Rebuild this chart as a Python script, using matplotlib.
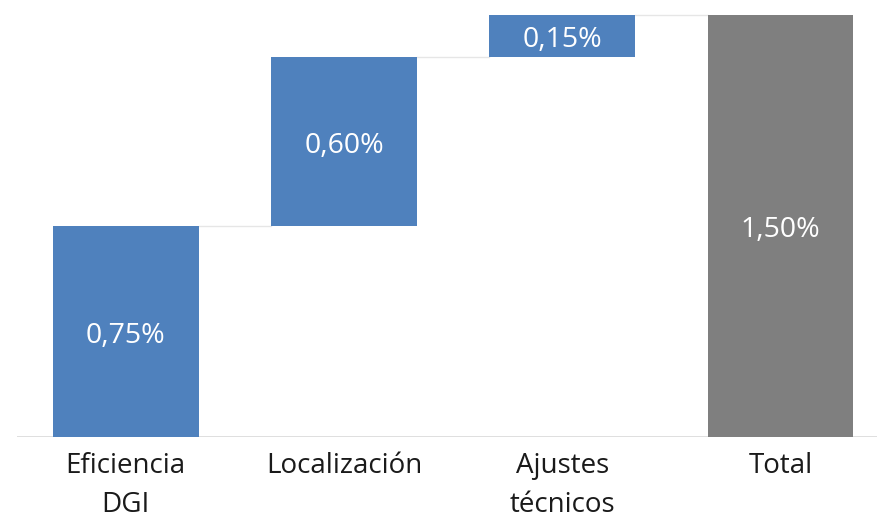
import matplotlib.pyplot as plt

# waterfall: contributions then total
categories = ['Eficiencia\nDGI', 'Localización', 'Ajustes\ntécnicos', 'Total']
steps = [0.75, 0.60, 0.15]
labels = ['0,75%', '0,60%', '0,15%', '1,50%']

blue = '#4f81bd'
grey = '#7f7f7f'

total = sum(steps)
bottoms = []
run = 0.0
for s in steps:
    bottoms.append(run)
    run += s
heights = steps + [total]
bottoms = bottoms + [0.0]
colors = [blue] * len(steps) + [grey]

plt.rcParams['font.family'] = ['Open Sans', 'DejaVu Sans']

fig = plt.figure(figsize=(8.77, 5.21), dpi=100)
ax = fig.add_axes([16.5 / 877, 84 / 521, 1 - 16.5 / 877, 422 / 521])

w = 0.668
x = list(range(len(categories)))
ax.bar(x, heights, bottom=bottoms, width=w, color=colors, clip_on=False, zorder=3)

# thin connector lines between bar tops
for i in range(len(categories) - 1):
    level = bottoms[i] + heights[i]
    ax.plot([x[i] + w / 2, x[i + 1] - w / 2], [level, level],
            color='#e6e6e6', lw=1, zorder=2, clip_on=False)

for i in range(len(categories)):
    ax.annotate(labels[i], (x[i], bottoms[i] + heights[i] / 2),
                xytext=(0, -3), textcoords='offset points',
                ha='center', va='center', color='white', fontsize=20.5, zorder=4)

ax.set_xlim(-0.5, 3.5 - (889.75 - 877) / 218.5)
ax.set_ylim(0, 1.5)
ax.axhline(0, color='#d9d9d9', lw=1.2, zorder=1)

ax.set_xticks(x)
ax.set_xticklabels(categories, fontsize=20, color='#1a1a1a', linespacing=1.5)
ax.tick_params(axis='x', length=0, pad=11)
ax.set_yticks([])
for sp in ax.spines.values():
    sp.set_visible(False)

fig.savefig('out.png', dpi=100)
